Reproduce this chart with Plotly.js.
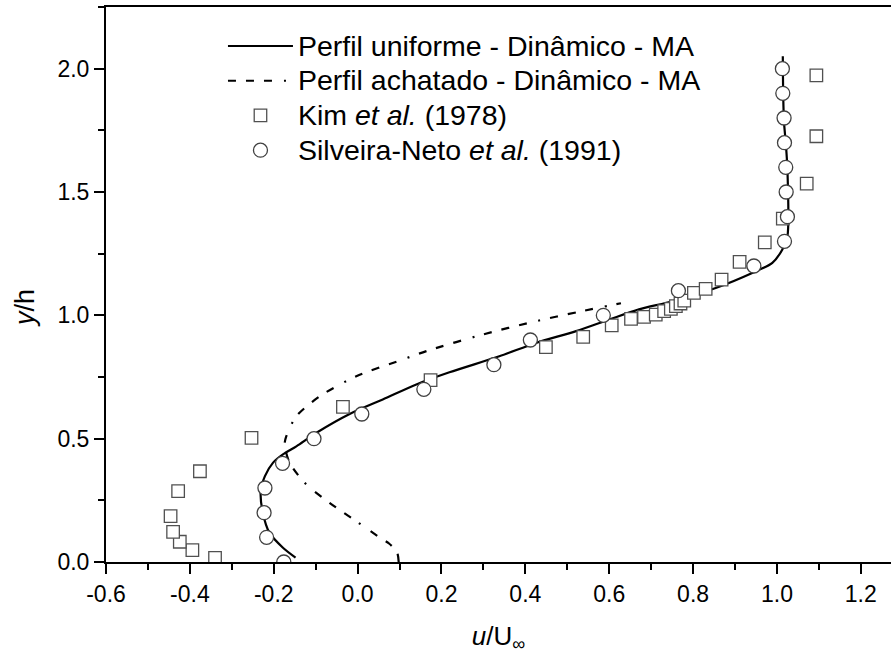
<!DOCTYPE html>
<html>
<head>
<meta charset="utf-8">
<script src="https://cdn.plot.ly/plotly-3.0.1.min.js"></script>
<style>html,body{margin:0;padding:0;background:#fff;}#chart{width:891px;height:663px;}</style>
</head>
<body>
<div id="chart"></div>
<script>
// Perfil uniforme - Dinâmico - MA (solid)
const uniformX = [-0.148,-0.178,-0.21,-0.226,-0.231,-0.221,-0.202,-0.178,-0.146,-0.098,-0.019,0.060,0.140,0.219,0.338,0.425,0.521,0.600,0.671,0.751,0.854,0.941,0.989,1.013,1.025,1.025,1.021,1.017,1.015,1.014];
const uniformY = [0.018,0.058,0.118,0.2,0.287,0.348,0.402,0.436,0.469,0.524,0.600,0.659,0.720,0.769,0.834,0.888,0.936,0.983,1.024,1.057,1.111,1.172,1.213,1.267,1.32,1.59,1.70,1.78,1.888,2.05];

// Perfil achatado - Dinâmico - MA (dashed)
const flatX = [0.098,0.094,0.075,0.060,-0.003,-0.067,-0.122,-0.162,-0.174,-0.170,-0.146,-0.090,-0.003,0.108,0.164,0.298,0.425,0.530,0.628];
const flatY = [0.0,0.04,0.075,0.091,0.165,0.240,0.314,0.402,0.476,0.510,0.591,0.672,0.753,0.821,0.855,0.922,0.976,1.015,1.049];

// Kim et al. (1978)
const kimX = [-0.340,-0.394,-0.424,-0.440,-0.446,-0.428,-0.376,-0.253,-0.035,0.174,0.449,0.538,0.606,0.652,0.683,0.711,0.731,0.747,0.759,0.770,0.779,0.802,0.830,0.868,0.911,0.971,1.014,1.071,1.094,1.094];
const kimY = [0.017,0.048,0.082,0.122,0.186,0.287,0.368,0.503,0.629,0.737,0.871,0.913,0.959,0.986,0.994,1.003,1.017,1.026,1.037,1.048,1.060,1.091,1.107,1.145,1.217,1.296,1.392,1.534,1.726,1.973];

// Silveira-Neto et al. (1991)
const snX = [-0.176,-0.217,-0.223,-0.221,-0.179,-0.104,0.010,0.158,0.325,0.412,0.586,0.765,0.945,1.018,1.025,1.022,1.021,1.018,1.017,1.014,1.013];
const snY = [0.0,0.1,0.2,0.3,0.4,0.5,0.6,0.7,0.8,0.9,1.0,1.1,1.2,1.3,1.4,1.5,1.6,1.7,1.8,1.9,2.0];

const xTickVals = [-0.6,-0.4,-0.2,0.0,0.2,0.4,0.6,0.8,1.0,1.2];
const xTickText = ["-0.6","-0.4","-0.2","0.0","0.2","0.4","0.6","0.8","1.0","1.2"];
const yTickVals = [0.0,0.5,1.0,1.5,2.0];
const yTickText = ["0.0","0.5","1.0","1.5","2.0"];

const seriesNames = [
  'Perfil uniforme - Dinâmico - MA',
  'Perfil achatado - Dinâmico - MA',
  'Kim <i>et al.</i> (1978)',
  'Silveira-Neto <i>et al.</i> (1991)'
];
const big = s => '<span style="font-size:28.5px">' + s + '</span>';

const FONT = 'Liberation Sans, Arial, sans-serif';

const traces = [
  {x: uniformX, y: uniformY, mode: 'lines', name: big(seriesNames[0]),
   line: {color: '#000', width: 2.2, shape: 'spline', smoothing: 0.8}},
  {x: flatX, y: flatY, mode: 'lines', name: big(seriesNames[1]),
   line: {color: '#000', width: 2.2, shape: 'spline', smoothing: 0.8, dash: '8px,10px,8px,10px,8px,12px,2px,10px'}},
  {x: kimX, y: kimY, mode: 'markers', name: big(seriesNames[2]),
   marker: {symbol: 'square', size: 12.5, color: '#fff', line: {color: '#505050', width: 1.3}}},
  {x: snX, y: snY, mode: 'markers', name: big(seriesNames[3]),
   marker: {symbol: 'circle', size: 14, color: '#fff', line: {color: '#404040', width: 1.3}}}
];

const layout = {
  width: 891, height: 663,
  margin: {l: 106, r: 0, t: 7, b: 101},
  paper_bgcolor: '#fff', plot_bgcolor: '#fff',
  font: {family: FONT, color: '#000', size: 23},
  showlegend: true,
  legend: {
    x: 0.149, y: 0.970, xanchor: 'left', yanchor: 'top',
    bgcolor: 'rgba(0,0,0,0)', borderwidth: 0,
    font: {family: FONT, size: 24.4, color: '#000'},
    itemwidth: 65, tracegroupgap: 0
  },
  xaxis: {
    range: [-0.6, 1.272], showgrid: false, zeroline: false,
    showline: true, linecolor: '#000', linewidth: 2, mirror: true,
    ticks: 'outside', ticklen: 10, tickwidth: 2, tickcolor: '#000',
    tickmode: 'array', tickvals: xTickVals, ticktext: xTickText,
    tickfont: {family: FONT, size: 23, color: '#000'},
    minor: {dtick: 0.1, tick0: 0, ticks: 'outside', ticklen: 6, tickwidth: 2, tickcolor: '#000'},
    title: {text: '<i>u</i>/U<sub style="font-size:15px">∞</sub>', font: {family: FONT, size: 26, color: '#000'}, standoff: 21}
  },
  yaxis: {
    range: [0, 2.25], showgrid: false, zeroline: false,
    showline: true, linecolor: '#000', linewidth: 2, mirror: false,
    ticks: 'outside', ticklen: 10, tickwidth: 2, tickcolor: '#000',
    tickmode: 'array', tickvals: yTickVals, ticktext: yTickText,
    tickfont: {family: FONT, size: 23, color: '#000'},
    minor: {dtick: 0.25, tick0: 0, ticks: 'outside', ticklen: 6, tickwidth: 2, tickcolor: '#000'}
  },
  annotations: [{
    text: '<i>y</i>/h', xref: 'paper', yref: 'paper', x: -0.103, y: 0.458,
    xanchor: 'center', yanchor: 'middle', textangle: -90, showarrow: false,
    font: {family: FONT, size: 27, color: '#000'}
  }]
};

Plotly.newPlot('chart', traces, layout, {displayModeBar: false, staticPlot: true});
</script>
</body>
</html>
